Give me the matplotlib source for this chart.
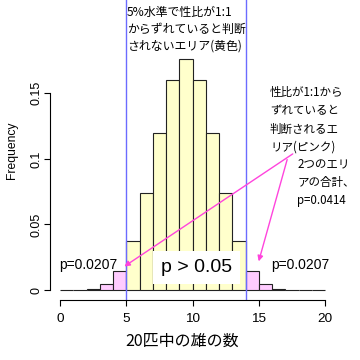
import matplotlib
matplotlib.use("Agg")
import matplotlib.pyplot as plt

# number of males among 20 (bar for k drawn over [k-1, k])
males = list(range(1, 21))
freq = [0.00002, 0.00018, 0.0011, 0.0046, 0.0148, 0.0370, 0.0739, 0.1201,
        0.1602, 0.1762, 0.1602, 0.1201, 0.0739, 0.0370, 0.0148, 0.0046,
        0.0011, 0.00018, 0.00002, 0.000001]
lower_cut = 5
upper_cut = 14
xticks = [0, 5, 10, 15, 20]
yticks = [0, 0.05, 0.1, 0.15]
ytick_labels = ["0", "0.05", "0.1", "0.15"]

jp = ["Noto Sans CJK JP", "DejaVu Sans"]
plt.rcParams["font.family"] = ["Liberation Sans", "Noto Sans CJK JP"]

fig = plt.figure(figsize=(3.6, 3.6), dpi=100)
ax = fig.add_axes([50 / 360, 60 / 360, 290 / 360, 300 / 360])

colors = ["#ffccff" if (k <= lower_cut or k > upper_cut) else "#ffffcc" for k in males]
ax.bar([k - 1 for k in males], freq, width=1, align="edge", color=colors,
       edgecolor="#222222", linewidth=0.8)

ax.axvline(lower_cut, color="#6b6bff", linewidth=1)
ax.axvline(upper_cut, color="#6b6bff", linewidth=1)

ax.set_xlim(-10 / 13.25, 280 / 13.25)
ax.set_ylim(-10 / 1311, 290 / 1311)

for s in ["top", "right"]:
    ax.spines[s].set_visible(False)
ax.spines["left"].set_bounds(0, 0.15)
ax.spines["bottom"].set_bounds(0, 20)
ax.set_xticks(xticks)
ax.set_yticks(yticks)
ax.set_yticklabels(ytick_labels, rotation=90, va="center")
ax.tick_params(axis="x", length=4, labelsize=9.7, pad=5)
ax.tick_params(axis="y", length=4, labelsize=9, pad=1.5)
ax.set_ylabel("Frequency", fontsize=8.7, labelpad=9)
fig.text(182 / 360, 1 - 341 / 360, "20匹中の雄の数", family=jp, fontsize=11.5,
         ha="center", va="center")

ax.text(5.06, 0.217, "5%水準で性比が1:1\nからずれていると判断\nされないエリア(黄色)",
        family=jp, fontsize=8.6, va="top", ha="left", linespacing=1.42)
ax.text(15.85, 0.1553, "性比が1:1から\nずれていると\n判断されるエ\nリア(ピンク)",
        family=jp, fontsize=8.3, va="top", ha="left", linespacing=1.5)
ax.text(17.9, 0.101, "2つのエリ\nアの合計、\np=0.0414",
        family=jp, fontsize=8.3, va="top", ha="left", linespacing=1.5)

ax.text(2.1, 0.019, "p=0.0207", fontsize=10, ha="center", va="center")
ax.text(18.1, 0.019, "p=0.0207", fontsize=10, ha="center", va="center")

ax.text(10.3, 0.0172, "p > 0.05", fontsize=14, ha="center", va="center",
        bbox=dict(boxstyle="square,pad=0.4", facecolor="white", edgecolor="none"))

arrow = dict(arrowstyle="-|>", color="#ff44dd", lw=1, mutation_scale=8)
ax.annotate("", xy=(4.68, 0.0168), xytext=(17.74, 0.105), arrowprops=arrow)
ax.annotate("", xy=(14.94, 0.0198), xytext=(17.2, 0.1015), arrowprops=arrow)

fig.savefig("out.png", dpi=100)
